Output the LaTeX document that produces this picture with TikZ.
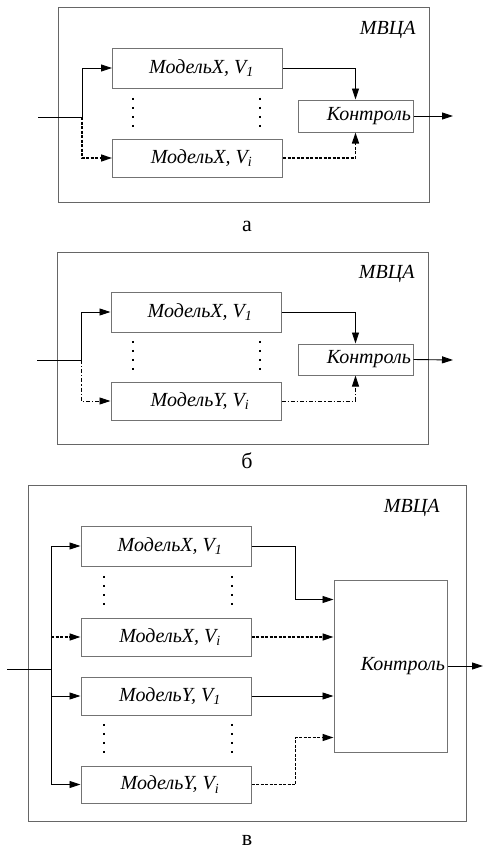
\documentclass[tikz,border=0pt]{standalone}
\usepackage{fontspec}
\setmainfont{Liberation Serif}
\usepackage{tikz}
\usetikzlibrary{arrows.meta,positioning,calc}

\newcommand{\modl}[2]{Модель#1, V\textsubscript{#2}}
\newcommand{\bigtxt}{\fontsize{20}{23}\selectfont}

\begin{document}
\begin{tikzpicture}[
  x=1pt, y=-1pt,
  frame/.style={draw=black!60, line width=1pt, inner sep=0pt},
  model/.style={draw=black!55, line width=1pt, minimum width=170pt,
                minimum height=38pt, inner sep=0pt, font=\bigtxt\itshape},
  ctrl/.style={draw=black!55, line width=1pt, inner xsep=2pt, inner ysep=0pt,
               align=right, font=\bigtxt\itshape},
  tag/.style={font=\bigtxt\itshape, anchor=east},
  caption/.style={font=\fontsize{22}{25}\selectfont},
  arr/.style={-{Triangle[length=11pt,width=7pt]}, line width=0.9pt},
  dsh/.style={dash pattern=on 3pt off 1.5pt, line width=1.4pt},
  dashdot/.style={dash pattern=on 4pt off 2pt on 1.2pt off 2pt, line width=0.9pt},
  vdot/.style={line width=2.6pt, dash pattern=on 2.6pt off 6.4pt}
]
\useasboundingbox (0,0) rectangle (483,852);

% ---------- a ----------
\node[frame, minimum width=371pt, minimum height=195pt] (mvcaA) at (243.5,104.5) {};
\node[tag] (tagA) at (419,30) {МВЦА};
\node[model, minimum height=40pt] (xoneA) at (197.5,68) {\hspace*{8pt}\modl{X}{1}};
\node[model] (xiA) at (197.5,158) {\hspace*{8pt}\modl{X}{i}};
\node[ctrl, text width=111pt, minimum height=32pt] (ctrlA) at (355.5,116) {Контроль};
\coordinate (inA) at (38,117);
\coordinate (brA) at (82,117);
\coordinate (outA) at (453,116);

\draw[arr] (inA) -- (brA) |- (xoneA.west);
\draw[arr, dsh] (brA) |- (xiA.west);
\draw[arr] (xoneA.east) -| (ctrlA.north);
\draw[arr, dsh] (xiA.east) -| (ctrlA.south);
\draw[arr] (ctrlA.east) -- (outA);
\draw[vdot] (133,97.8) -- (133,127.5);
\draw[vdot] (260,97.8) -- (260,127.5);
\node[caption] (capA) at (247,226) {а};

% ---------- b ----------
\node[frame, minimum width=371pt, minimum height=192pt] (mvcaB) at (242.5,348) {};
\node[tag] (tagB) at (418,274) {МВЦА};
\node[model, minimum height=40pt] (xoneB) at (196,312) {\hspace*{8pt}\modl{X}{1}};
\node[model] (yiB) at (196,401) {\hspace*{8pt}\modl{Y}{i}};
\node[ctrl, text width=111pt, minimum height=31pt] (ctrlB) at (355.5,359.5) {Контроль};
\coordinate (inB) at (37,360);
\coordinate (brB) at (81,360);
\coordinate (outB) at (453,360);

\draw[arr] (inB) -- (brB) |- (xoneB.west);
\draw[arr, dashdot] (brB) |- (yiB.west);
\draw[arr] (xoneB.east) -| (ctrlB.north);
\draw[arr, dashdot] (yiB.east) -| (ctrlB.south);
\draw[arr] (ctrlB.east) -- (outB);
\draw[vdot] (133,340.8) -- (133,370.5);
\draw[vdot] (260,340.8) -- (260,370.5);
\node[caption] (capB) at (247,461) {б};

% ---------- v ----------
\node[frame, minimum width=438pt, minimum height=336pt] (mvcaC) at (247,653) {};
\node[tag] (tagC) at (443,508) {МВЦА};
\node[model, minimum height=40pt] (xoneC) at (166,546) {\hspace*{8pt}\modl{X}{1}};
\node[model] (xiC) at (166,637) {\hspace*{8pt}\modl{X}{i}};
\node[model] (yoneC) at (166,696) {\hspace*{8pt}\modl{Y}{1}};
\node[model, minimum height=37pt] (yiC) at (166,784.5) {\hspace*{8pt}\modl{Y}{i}};
\node[ctrl, text width=109pt, minimum height=172pt] (ctrlC) at (390.5,666) {Контроль};
\coordinate (inC) at (7,669);
\coordinate (brC) at (51,669);
\coordinate (outC) at (483,666);
\coordinate (kinC1) at ($(ctrlC.north west)+(0,20)$);
\coordinate (kinC4) at ($(ctrlC.south west)+(0,-15)$);

\draw (inC) -- (brC);
\draw[arr] (brC) |- (xoneC.west);
\draw[arr] (brC) |- (yoneC.west);
\draw[arr] (brC) |- (yiC.west);
\draw[arr, dsh] (brC |- xiC.west) -- (xiC.west);
\draw[arr] (xoneC.east) -- ++(44,0) |- (kinC1);
\draw[arr, dsh] (xiC.east) -- (xiC.east -| ctrlC.west);
\draw[arr] (yoneC.east) -- (yoneC.east -| ctrlC.west);
\draw[arr, dsh] (yiC.east) -- ++(44,0) |- (kinC4);
\draw[arr] (ctrlC.east) -- (outC);
\draw[vdot] (104,575.8) -- (104,605.5);
\draw[vdot] (232,575.8) -- (232,605.5);
\draw[vdot] (104,723.8) -- (104,753.5);
\draw[vdot] (232,723.8) -- (232,753.5);
\node[caption] (capC) at (247,840) {в};
\end{tikzpicture}
\end{document}
